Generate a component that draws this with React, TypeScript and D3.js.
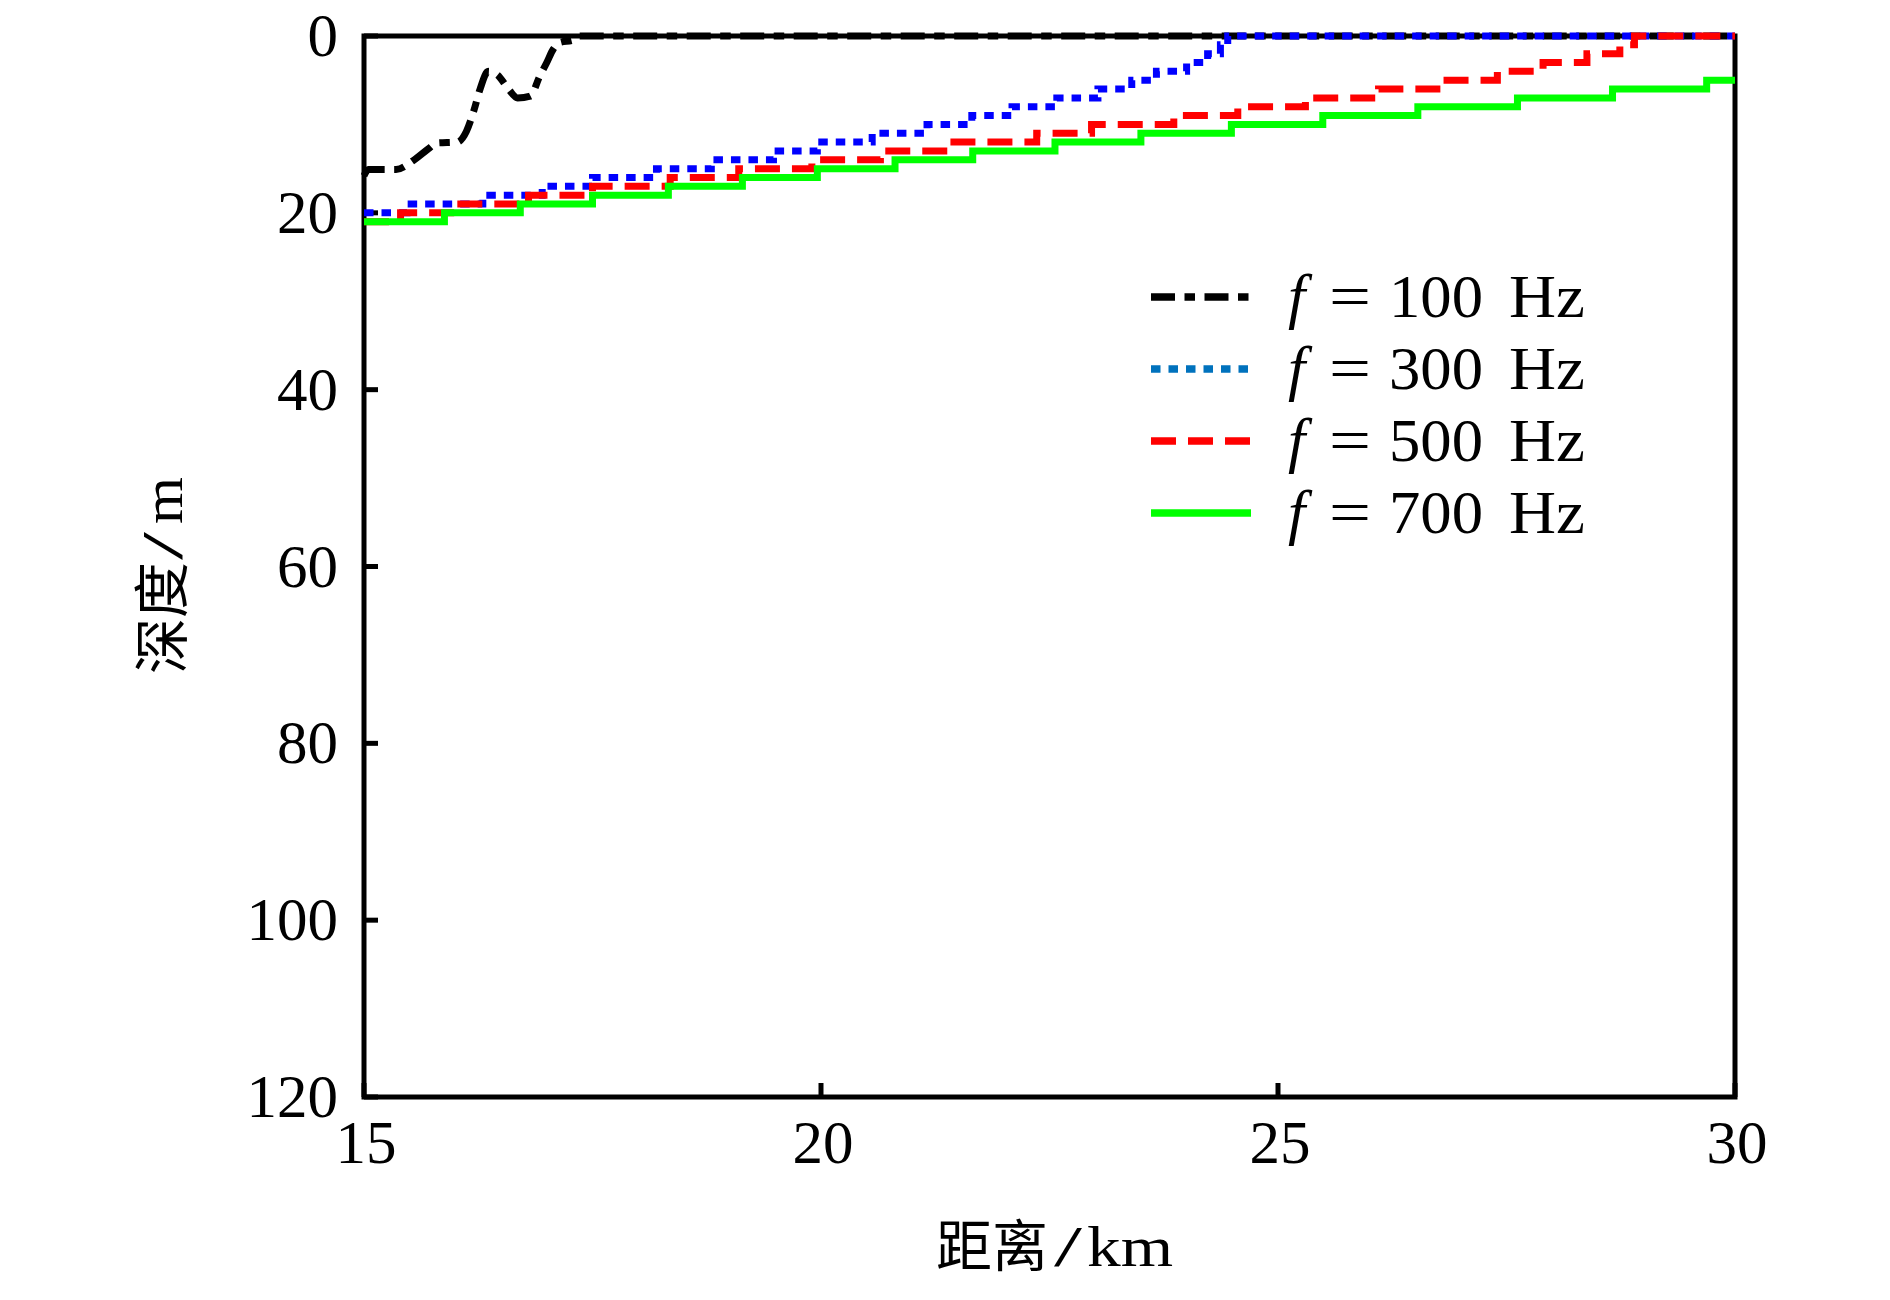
import * as d3 from 'd3';
import * as React from 'react';

// range (km) / depth (m)
const x100 = [15, 15.05, 15.35, 15.55, 15.7, 15.8, 16.02, 16.12, 16.2, 16.27, 16.36, 16.46, 16.58, 16.68, 16.82, 16.92, 17.0, 17.07, 17.15, 17.28, 17.36, 30];
const d100 = [15.8, 15.1, 15.1, 14, 12.8, 12.1, 12, 10.8, 8.5, 6, 4, 4.4, 6, 7, 6.8, 4.6, 3, 1.5, 0.7, 0.5, 0, 0];

const x300 = [15, 15.47, 16.3, 16.95, 17.5, 18.2, 18.8, 19.48, 19.96, 20.56, 21.16, 21.65, 22.09, 22.58, 23.03, 23.4, 23.67, 24.0, 24.23, 24.37, 24.45, 30];
const d300 = [20, 19, 18, 17, 16, 15, 14, 13, 12, 11, 10, 9, 8, 7, 6, 5, 4, 3, 2, 1, 0, 0];

const x500 = [15, 15.4, 16.0, 16.8, 17.5, 18.35, 19.1, 19.9, 20.65, 21.4, 22.36, 22.96, 23.86, 24.56, 25.3, 26.1, 26.78, 27.4, 27.9, 28.38, 28.74, 28.9, 30];
const d500 = [21, 20, 19, 18, 17, 16, 15, 14, 13, 12, 11, 10, 9, 8, 7, 6, 5, 4, 3, 2, 1, 0, 0];

const x700 = [15, 15.88, 16.71, 17.5, 18.33, 19.14, 19.96, 20.81, 21.66, 22.56, 23.5, 24.49, 25.49, 26.53, 27.62, 28.66, 29.69, 30];
const d700 = [21, 20, 19, 18, 17, 16, 15, 14, 13, 12, 11, 10, 9, 8, 7, 6, 5, 5];

const freqs = ['100', '300', '500', '700'];
const xTicks = [15, 20, 25, 30];
const yTicks = [0, 20, 40, 60, 80, 100, 120];

interface ISeries {
  xs: number[];
  ds: number[];
  color: string;
  legendColor: string;
  dash: string;
  curve: d3.CurveFactory;
}

const series: ISeries[] = [
  { xs: x100, ds: d100, color: '#000000', legendColor: '#000000', dash: '24 9.5 10.5 9.5', curve: d3.curveMonotoneX },
  { xs: x300, ds: d300, color: '#0000ff', legendColor: '#0072bd', dash: '9.5 8', curve: d3.curveStepAfter },
  { xs: x500, ds: d500, color: '#ff0000', legendColor: '#ff0000', dash: '25 12', curve: d3.curveStepAfter },
  { xs: x700, ds: d700, color: '#00ff00', legendColor: '#00ff00', dash: null, curve: d3.curveStepAfter },
];

const W = 1890;
const H = 1300;
const left = 364;
const right = 1735;
const top = 36;
const bottom = 1097;

const serif = '"Liberation Serif", "Noto Sans CJK SC", serif';

const App: React.FC = () => {
  const x = d3.scaleLinear().domain([15, 30]).range([left, right]);
  const y = d3.scaleLinear().domain([0, 120]).range([top, bottom]);

  const pathFor = (s: ISeries) =>
    d3.line<number>()
      .x((v, i) => x(s.xs[i]))
      .y((v, i) => y(s.ds[i]))
      .curve(s.curve)(s.ds);

  return (
    <svg width={W} height={H} style={{ position: 'absolute', left: 0, top: 0, background: '#fff' }}>
      <rect x={left} y={top} width={right - left} height={bottom - top}
        fill='none' stroke='#000' strokeWidth={5} />

      {yTicks.map((t) => (
        <g key={'y' + t}>
          <line x1={left} x2={left + 14} y1={y(t)} y2={y(t)} stroke='#000' strokeWidth={5} />
          <text x={338} y={y(t) + 20} textAnchor='end' fontFamily={serif} fontSize={61}>{t}</text>
        </g>
      ))}
      {xTicks.map((t) => (
        <g key={'x' + t}>
          <line x1={x(t)} x2={x(t)} y1={bottom} y2={bottom - 14} stroke='#000' strokeWidth={5} />
          <text x={x(t) + 2} y={1163} textAnchor='middle' fontFamily={serif} fontSize={61}>{t}</text>
        </g>
      ))}

      {series.map((s, i) => (
        <path key={'s' + i} d={pathFor(s)} fill='none' stroke={s.color} strokeWidth={7}
          strokeDasharray={s.dash || undefined} />
      ))}

      {series.map((s, i) => {
        const ly = 297 + i * 72;
        return (
          <g key={'l' + i}>
            <line x1={1151} x2={1251} y1={ly} y2={ly} stroke={s.legendColor} strokeWidth={7.5}
              strokeDasharray={s.dash || undefined} />
            <text y={ly + 20} fontFamily={serif} fontSize={62}>
              <tspan x={1288} fontStyle='italic'>f</tspan>
              <tspan x={1329} textLength={42} lengthAdjust='spacingAndGlyphs'>=</tspan>
              <tspan x={1389} textLength={94} lengthAdjust='spacingAndGlyphs'>{freqs[i]}</tspan>
              <tspan x={1509} textLength={76} lengthAdjust='spacingAndGlyphs'>Hz</tspan>
            </text>
          </g>
        );
      })}

      <text y={1266} fontFamily={serif} fontSize={56}>
        <tspan x={936}>距离</tspan>
        <tspan x={1054} textLength={28} lengthAdjust='spacingAndGlyphs'>/</tspan>
        <tspan x={1087} textLength={86} lengthAdjust='spacingAndGlyphs'>km</tspan>
      </text>
      <text transform='translate(182,0) rotate(-90)' fontFamily={serif} fontSize={56}>
        <tspan x={-674}>深度</tspan>
        <tspan x={-560} textLength={28} lengthAdjust='spacingAndGlyphs'>/</tspan>
        <tspan x={-524} textLength={47} lengthAdjust='spacingAndGlyphs'>m</tspan>
      </text>
    </svg>
  );
};

export default App;
